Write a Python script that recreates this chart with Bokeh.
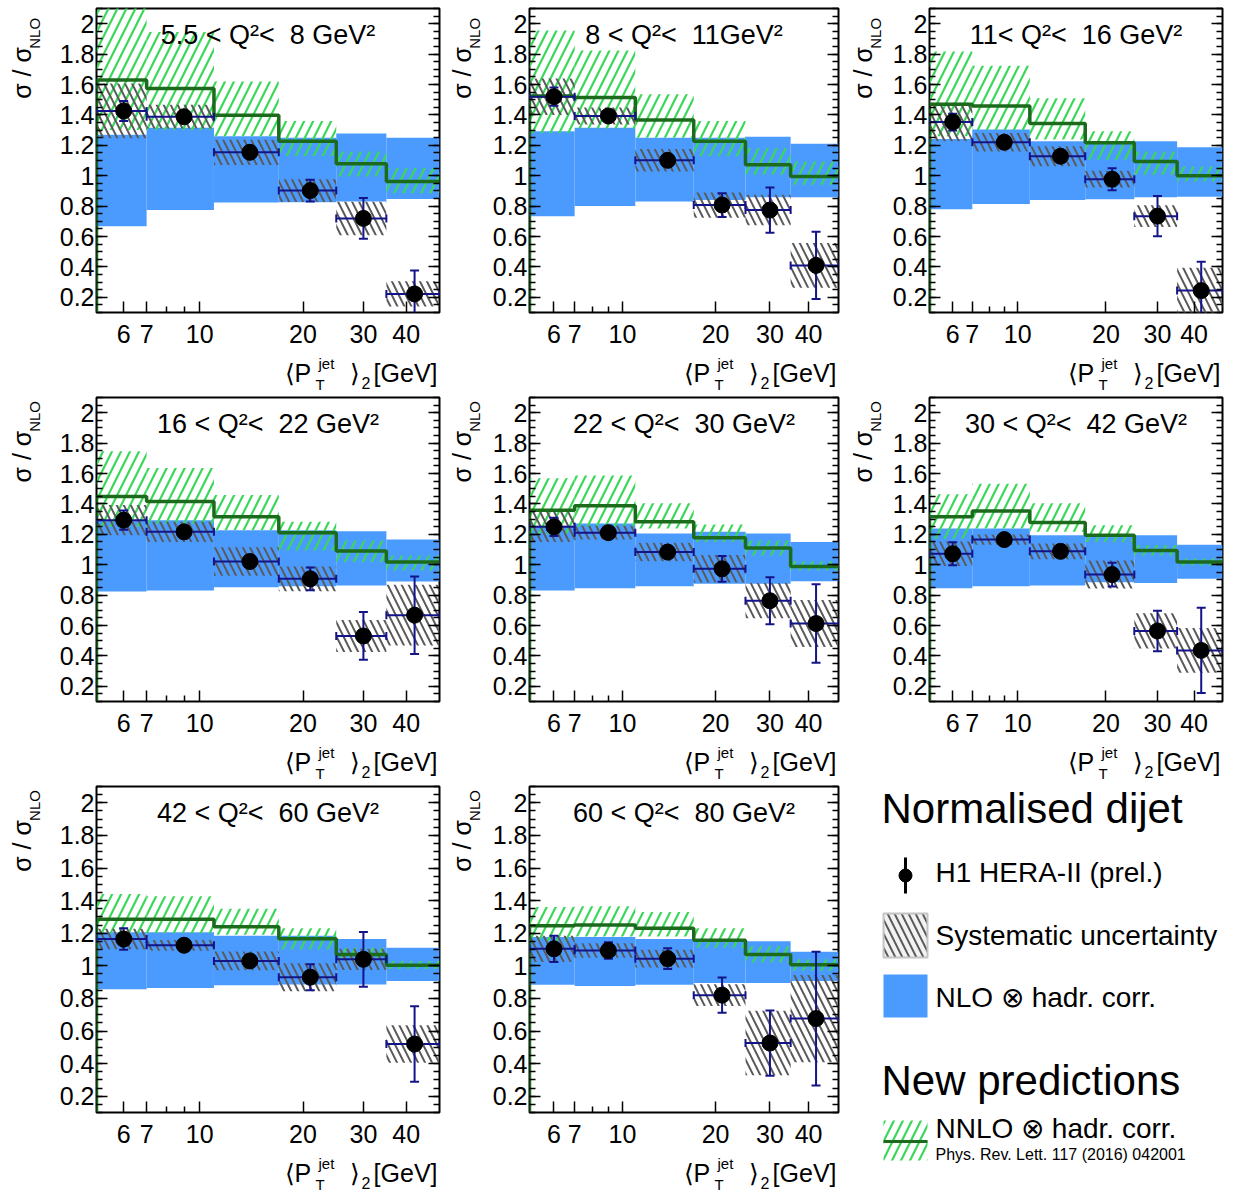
import numpy as np
from bokeh.plotting import figure
from bokeh.models import (Range1d, FixedTicker, LinearAxis,
                          CustomJSTickFormatter, Label)
from bokeh.layouts import row, column
from bokeh.embed import file_html
from bokeh.resources import INLINE

# ---------------- data ----------------
pt_edges = [5, 7, 11, 17, 25, 35, 50]
pt_mean = [6.0, 9.0, 14.0, 21.0, 30.0, 42.3]

q2_titles = [
    "5.5 < Q\u00b2<\u00a0\u00a08 GeV\u00b2",
    "8 < Q\u00b2<\u00a0\u00a011GeV\u00b2",
    "11< Q\u00b2<\u00a0\u00a016 GeV\u00b2",
    "16 < Q\u00b2<\u00a0\u00a022 GeV\u00b2",
    "22 < Q\u00b2<\u00a0\u00a030 GeV\u00b2",
    "30 < Q\u00b2<\u00a0\u00a042 GeV\u00b2",
    "42 < Q\u00b2<\u00a0\u00a060 GeV\u00b2",
    "60 < Q\u00b2<\u00a0\u00a080 GeV\u00b2",
]

h1_ratio = [
    [1.426, 1.388, 1.154, 0.902, 0.719, 0.222],
    [1.520, 1.393, 1.101, 0.807, 0.774, 0.410],
    [1.353, 1.220, 1.128, 0.977, 0.734, 0.244],
    [1.293, 1.216, 1.021, 0.907, 0.531, 0.668],
    [1.249, 1.211, 1.083, 0.973, 0.763, 0.613],
    [1.072, 1.165, 1.088, 0.935, 0.564, 0.436],
    [1.164, 1.126, 1.030, 0.930, 1.040, 0.520],
    [1.104, 1.094, 1.044, 0.820, 0.526, 0.676],
]
h1_stat = [
    [0.066, 0.020, 0.020, 0.072, 0.134, 0.155],
    [0.060, 0.020, 0.020, 0.078, 0.149, 0.222],
    [0.055, 0.020, 0.020, 0.072, 0.133, 0.190],
    [0.063, 0.020, 0.020, 0.075, 0.157, 0.255],
    [0.060, 0.020, 0.020, 0.085, 0.155, 0.258],
    [0.075, 0.020, 0.020, 0.078, 0.133, 0.280],
    [0.066, 0.020, 0.020, 0.080, 0.168, 0.232],
    [0.080, 0.050, 0.063, 0.108, 0.200, 0.410],
]
h1_syst = [
    [0.180, 0.078, 0.083, 0.075, 0.110, 0.083],
    [0.120, 0.056, 0.074, 0.083, 0.100, 0.147],
    [0.127, 0.061, 0.066, 0.055, 0.072, 0.150],
    [0.100, 0.066, 0.094, 0.081, 0.105, 0.200],
    [0.100, 0.045, 0.061, 0.090, 0.116, 0.155],
    [0.080, 0.033, 0.052, 0.092, 0.116, 0.147],
    [0.063, 0.033, 0.057, 0.086, 0.065, 0.115],
    [0.080, 0.045, 0.055, 0.067, 0.198, 0.267],
]
nlo_low = [
    [0.668, 0.774, 0.823, 0.825, 0.830, 0.847],
    [0.734, 0.800, 0.830, 0.840, 0.858, 0.858],
    [0.779, 0.814, 0.840, 0.845, 0.858, 0.862],
    [0.823, 0.830, 0.851, 0.858, 0.863, 0.889],
    [0.830, 0.845, 0.858, 0.874, 0.874, 0.891],
    [0.845, 0.858, 0.863, 0.885, 0.880, 0.907],
    [0.856, 0.864, 0.880, 0.886, 0.886, 0.906],
    [0.884, 0.876, 0.884, 0.894, 0.894, 0.906],
]
nlo_high = [
    [1.270, 1.315, 1.260, 1.249, 1.278, 1.250],
    [1.293, 1.315, 1.249, 1.249, 1.256, 1.210],
    [1.242, 1.304, 1.227, 1.227, 1.227, 1.187],
    [1.293, 1.293, 1.227, 1.227, 1.220, 1.165],
    [1.256, 1.271, 1.205, 1.216, 1.205, 1.150],
    [1.238, 1.238, 1.194, 1.194, 1.194, 1.132],
    [1.206, 1.206, 1.184, 1.184, 1.164, 1.110],
    [1.176, 1.176, 1.164, 1.164, 1.150, 1.086],
]
nnlo_central = [
    [1.630, 1.574, 1.397, 1.227, 1.079, 0.962],
    [1.525, 1.514, 1.366, 1.227, 1.072, 0.995],
    [1.470, 1.459, 1.344, 1.216, 1.094, 1.000],
    [1.448, 1.415, 1.315, 1.211, 1.090, 1.017],
    [1.359, 1.388, 1.282, 1.178, 1.110, 0.988],
    [1.315, 1.353, 1.278, 1.194, 1.094, 1.017],
    [1.286, 1.286, 1.240, 1.166, 1.070, 1.004],
    [1.246, 1.250, 1.230, 1.156, 1.070, 1.006],
]
nnlo_high = [
    [2.300, 1.945, 1.620, 1.360, 1.160, 1.050],
    [1.956, 1.823, 1.536, 1.360, 1.183, 1.094],
    [1.817, 1.724, 1.510, 1.293, 1.160, 1.061],
    [1.746, 1.636, 1.459, 1.282, 1.160, 1.061],
    [1.569, 1.587, 1.404, 1.265, 1.160, 1.022],
    [1.463, 1.532, 1.404, 1.260, 1.130, 1.040],
    [1.440, 1.426, 1.350, 1.230, 1.110, 1.030],
    [1.360, 1.366, 1.330, 1.230, 1.120, 1.040],
]
nnlo_low = [
    [1.300, 1.300, 1.260, 1.130, 0.995, 0.885],
    [1.280, 1.310, 1.249, 1.128, 1.006, 0.940],
    [1.260, 1.300, 1.238, 1.105, 1.006, 0.962],
    [1.250, 1.270, 1.227, 1.094, 1.017, 0.962],
    [1.200, 1.250, 1.238, 1.150, 1.060, 0.962],
    [1.170, 1.238, 1.216, 1.150, 1.060, 0.995],
    [1.200, 1.200, 1.190, 1.100, 1.050, 0.980],
    [1.150, 1.180, 1.180, 1.110, 1.020, 0.970],
]

x_major_ticks = [6, 7, 10, 20, 30, 40]
x_minor_ticks = [8, 9]
y_major_ticks = [0.2, 0.4, 0.6, 0.8, 1.0, 1.2, 1.4, 1.6, 1.8, 2.0]

# ---------------- style / layout ----------------
FONT = "Liberation Sans"
BLUE = "#4b9bff"
GREEN = "#3ad75a"
DKGREEN = "#1c6b1c"
GREY = "#5a5a5a"
NAVY = "#141489"
MID = 0.35                    # baseline -> middle of text, in em

YW = 44                       # width of the y-title strip
col_border = [52, 44, 45]     # left border of each panel (tick labels)
col_frame_w = [343, 309, 293]
col_right = [2, 2, 3]
row_top = [8, 1, 1]
row_frame_h = [304, 304, 326]
row_bottom = [84, 84, 84]     # total space below frame
B1 = 42                       # part of it holding the tick labels
ylab_x = [30, 29, 31]         # baseline of sigma in the y-title strip

y_minor = [round(0.1 + 0.05 * k, 2) for k in range(41)]


def style_axis(ax, label_size, standoff):
    ax.axis_line_color = None
    ax.major_tick_in = 11
    ax.major_tick_out = 0
    ax.minor_tick_in = 6
    ax.minor_tick_out = 0
    ax.major_tick_line_color = "black"
    ax.major_tick_line_width = 1.5
    ax.minor_tick_line_color = "black"
    ax.minor_tick_line_width = 1.5
    ax.major_label_text_font = FONT
    ax.major_label_text_font_size = label_size
    ax.major_label_text_color = "black"
    ax.major_label_standoff = standoff
    ax.axis_label = None


def text_fig(w, h):
    f = figure(width=w, height=h, x_range=Range1d(0, w), y_range=Range1d(0, h),
               output_backend="svg", toolbar_location=None, tools="",
               x_axis_location=None, y_axis_location=None,
               min_border_left=0, min_border_right=0,
               min_border_top=0, min_border_bottom=0)
    f.grid.visible = False
    f.outline_line_color = None
    return f


def put_text(f, x, y, text, size, align="left", angle=0.0, units="data"):
    """(x, y) is the wanted baseline point; the label is anchored at mid-height."""
    off = MID * size
    if angle == 0.0:
        y = y + off
    else:
        x = x - off
    f.add_layout(Label(x=x, y=y, x_units=units, y_units=units, text=text,
                       text_font=FONT, text_font_size=f"{size}px",
                       text_color="black", text_align=align,
                       text_baseline="middle", angle=angle))


def make_cell(i, r, c):
    fw, fh = col_frame_w[c], row_frame_h[r]
    pw = col_border[c] + fw + col_right[c]
    ph = row_top[r] + fh + B1
    p = figure(width=pw, height=ph,
               x_axis_type="log", x_range=Range1d(5, 50),
               y_range=Range1d(0.1, 2.1),
               output_backend="svg", toolbar_location=None, tools="",
               min_border_left=col_border[c], min_border_right=col_right[c],
               min_border_top=row_top[r], min_border_bottom=B1)
    p.grid.visible = False
    p.outline_line_color = "black"
    p.outline_line_width = 2
    p.outline_line_alpha = 1.0

    xt = FixedTicker(ticks=x_major_ticks, minor_ticks=x_minor_ticks)
    yt = FixedTicker(ticks=y_major_ticks, minor_ticks=y_minor)

    xa = p.xaxis[0]
    xa.ticker = xt
    xa.formatter = CustomJSTickFormatter(code="return String(tick);")
    style_axis(xa, "25px", 12)

    ya = p.yaxis[0]
    ya.ticker = yt
    ya.formatter = CustomJSTickFormatter(
        code="var s = tick.toFixed(1); return s.endsWith('.0') ? s.slice(0, -2) : s;")
    style_axis(ya, "25px", 2)

    ra = LinearAxis(ticker=yt, formatter=CustomJSTickFormatter(code="return '';"))
    style_axis(ra, "0px", 0)
    p.add_layout(ra, "right")

    lefts, rights = pt_edges[:-1], pt_edges[1:]
    val = np.array(h1_ratio[i])
    stat = np.array(h1_stat[i])
    syst = np.array(h1_syst[i])

    # NLO band
    p.quad(left=lefts, right=rights, bottom=nlo_low[i], top=nlo_high[i],
           fill_color=BLUE, line_color=None)
    # NNLO band (hatched)
    p.quad(left=lefts, right=rights, bottom=nnlo_low[i], top=nnlo_high[i],
           fill_color=None, line_color=None, hatch_pattern="/",
           hatch_color=GREEN, hatch_scale=18, hatch_weight=2.2)
    # systematic uncertainty (hatched)
    p.quad(left=lefts, right=rights, bottom=val - syst, top=val + syst,
           fill_color=None, line_color=None, hatch_pattern="\\",
           hatch_color=GREY, hatch_scale=14, hatch_weight=2)
    # NNLO central step line
    sx, sy = [pt_edges[0]], [0.0]
    for lo, hi, cval in zip(lefts, rights, nnlo_central[i]):
        sx += [lo, hi]
        sy += [cval, cval]
    p.line(sx, sy, line_color=DKGREEN, line_width=3.5)

    # data: bin-width bars and statistical errors
    p.segment(x0=lefts, x1=rights, y0=val, y1=val, line_color=NAVY, line_width=2)
    p.segment(x0=pt_mean, x1=pt_mean, y0=val - stat, y1=val + stat,
              line_color=NAVY, line_width=2)
    p.scatter(x=lefts + rights, y=list(val) + list(val), marker="dash",
              angle=np.pi / 2, size=8, line_color=NAVY, line_width=2)
    p.scatter(x=pt_mean + pt_mean, y=list(val - stat) + list(val + stat),
              marker="dash", size=9, line_color=NAVY, line_width=2)
    p.scatter(x=pt_mean, y=val, marker="circle", size=16,
              fill_color="black", line_color="black")

    # panel title (inside the frame, baseline 36 px below its top)
    put_text(p, fw / 2, fh - 36, q2_titles[i], 27, "center", units="screen")

    # y-axis title strip
    yl = text_fig(YW, ph)
    ftop = ph - row_top[r]
    put_text(yl, ylab_x[c], ftop - 37, "\u03c3 / \u03c3", 25, "right", np.pi / 2)
    put_text(yl, ylab_x[c] + 9, ftop - 3, "NLO", 15, "right", np.pi / 2)

    # x-axis title strip (baselines below the frame: main 69, sup 56, subs 77)
    XH = row_bottom[r] - B1
    xl = text_fig(YW + pw, XH)
    FR = YW + col_border[c] + fw
    put_text(xl, FR - 155, XH - 27, "\u27e8", 25)
    put_text(xl, FR - 145, XH - 27, "P", 25)
    put_text(xl, FR - 121, XH - 14, "jet", 15)
    put_text(xl, FR - 124, XH - 35, "T", 15)
    put_text(xl, FR - 80, XH - 27, "\u27e9", 25, "right")
    put_text(xl, FR - 78, XH - 34, "2", 16)
    put_text(xl, FR - 2, XH - 27, "[GeV]", 25, "right")

    return column(row(yl, p), xl)


cells = []
for k in range(8):
    r, c = divmod(k, 3)
    cells.append(make_cell(k, r, c))

# ---------------- legend cell ----------------
LW = YW + col_border[2] + col_frame_w[2] + col_right[2]
LH = row_top[2] + row_frame_h[2] + row_bottom[2]
leg = text_fig(LW, LH)
LY0 = LH - 403   # shift so that legend rows sit at the reference heights

put_text(leg, 41, LY0 + 365, "Normalised dijet", 42)
leg.segment(x0=[65], x1=[65], y0=[LY0 + 295], y1=[LY0 + 331], line_color="black",
            line_width=3)
leg.scatter(x=[65], y=[LY0 + 313], marker="circle", size=13, fill_color="black",
            line_color="black")
put_text(leg, 95, LY0 + 306, "H1 HERA-II (prel.)", 28)
leg.quad(left=[43], right=[87], bottom=[LY0 + 231], top=[LY0 + 275],
         fill_color="#f2f2f2", line_color="#c4c4c4", line_width=2,
         hatch_pattern="\\", hatch_color=GREY, hatch_scale=14, hatch_weight=2)
put_text(leg, 95, LY0 + 243, "Systematic uncertainty", 28)
leg.quad(left=[43], right=[87], bottom=[LY0 + 171], top=[LY0 + 214],
         fill_color=BLUE, line_color=None)
put_text(leg, 95, LY0 + 181, "NLO \u2297 hadr. corr.", 28)
put_text(leg, 41, LY0 + 93, "New predictions", 42)
leg.quad(left=[43], right=[87], bottom=[LY0 + 28], top=[LY0 + 68], fill_color=None,
         line_color=None, hatch_pattern="/", hatch_color=GREEN,
         hatch_scale=18, hatch_weight=2.2)
leg.segment(x0=[43], x1=[87], y0=[LY0 + 47], y1=[LY0 + 47], line_color=DKGREEN,
            line_width=3)
put_text(leg, 95, LY0 + 50, "NNLO \u2297 hadr. corr.", 28)
put_text(leg, 95, LY0 + 28, "Phys. Rev. Lett. 117 (2016) 042001", 16)

layout = column(row(cells[0], cells[1], cells[2]),
                row(cells[3], cells[4], cells[5]),
                row(cells[6], cells[7], leg))

open("out.html", "w").write(file_html(layout, INLINE))
